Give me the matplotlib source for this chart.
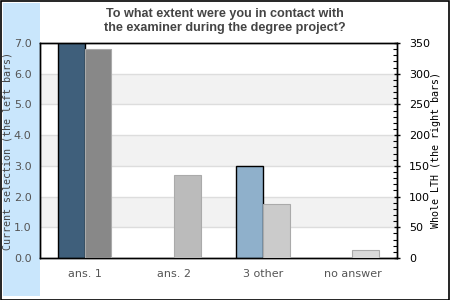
import matplotlib
matplotlib.use("Agg")
import matplotlib.pyplot as plt
from matplotlib.patches import Rectangle
import numpy as np

categories = ["ans. 1", "ans. 2", "3 other", "no answer"]
current_selection = [7.0, 0.0, 3.0, 0.0]
whole_lth = [340, 135, 88, 13]
left_colors = ["#3f5f7b", "#3f5f7b", "#8fb0cb", "#8fb0cb"]
right_colors = ["#888888", "#bbbbbb", "#cbcbcb", "#d9d9d9"]
left_ticks = [0, 1, 2, 3, 4, 5, 6, 7]
right_ticks = [0, 50, 100, 150, 200, 250, 300, 350]

W, H = 450, 300
fig = plt.figure(figsize=(4.5, 3.0), dpi=100)
fig.patch.set_facecolor("white")

# outer border and left strip
fig.add_artist(Rectangle((0.5 / W, 0.5 / H), (W - 1.5) / W, (H - 1.5) / H,
                         transform=fig.transFigure, fill=False,
                         edgecolor="black", lw=1.2))
fig.add_artist(Rectangle((3 / W, 4 / H), 37 / W, 293 / H,
                         transform=fig.transFigure, facecolor="#c9e6fc",
                         edgecolor="none", zorder=0))

ax = fig.add_axes([40 / W, 42 / H, 357 / W, 215 / H])
ax2 = ax.twinx()

x = np.arange(len(categories))
bw = 0.30

ax.set_xlim(-0.5, len(categories) - 0.5)
ax.set_ylim(0, 7)
ax2.set_ylim(0, 350)

for lo in (1, 3, 5):
    ax.axhspan(lo, lo + 1, color="#f2f2f2", zorder=0, lw=0)
for g in range(1, 7):
    ax.axhline(g, color="#dddddd", lw=1, zorder=0.5)

ax.bar(x - bw / 2, current_selection, width=bw, color=left_colors,
       edgecolor=["black" if v > 0 else "none" for v in current_selection],
       linewidth=1.0, zorder=3)
ax2.bar(x + bw / 2, whole_lth, width=bw, color=right_colors,
        edgecolor=["#aaaaaa" if v > 0 else "none" for v in whole_lth],
        linewidth=0.8, zorder=3)

ax.set_xticks(x)
ax.set_xticklabels(categories, fontsize=8, color="#555555")
ax.tick_params(axis="x", length=0, pad=8)
ax.set_yticks(left_ticks)
ax.set_yticklabels([f"{v:.1f}" for v in left_ticks], fontsize=8, color="#555555")
ax.tick_params(axis="y", length=0, pad=6)

ax2.set_yticks(right_ticks)
ax2.set_yticklabels([str(v) for v in right_ticks], fontsize=8, color="black")
ax2.set_yticks(np.arange(0, 351, 10), minor=True)
ax2.tick_params(axis="y", which="major", direction="inout", length=5, width=1, pad=6)
ax2.tick_params(axis="y", which="minor", direction="in", length=3, width=0.8)
ax2.patch.set_visible(False)

for a in (ax, ax2):
    for s in a.spines.values():
        s.set_color("black")
        s.set_linewidth(1.0)

ax.set_ylabel("Current selection (the left bars)", family="DejaVu Sans Mono",
              fontsize=7.2, color="#444444")
ax.yaxis.set_label_coords(-27 / 357, 0.5)
ax2.set_ylabel("Whole LTH (the right bars)", family="DejaVu Sans Mono",
               fontsize=7.2, color="black")
ax2.yaxis.set_label_coords(1 + 34 / 357, 0.5)

fig.text(225 / W, 1 - 21 / H,
         "To what extent were you in contact with\nthe examiner during the degree project?",
         ha="center", va="center", family="Liberation Sans", weight="bold",
         fontsize=9.1, color="#444444", linespacing=1.2)

fig.savefig("out.png", dpi=100)
